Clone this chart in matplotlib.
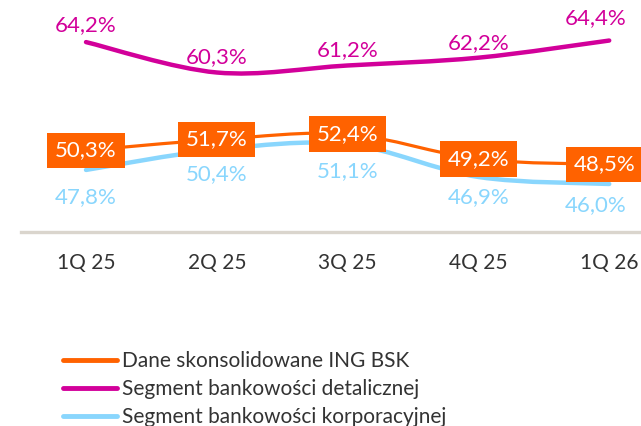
import numpy as np
import matplotlib
matplotlib.use("Agg")
import matplotlib.pyplot as plt
from matplotlib.path import Path
from matplotlib.patches import PathPatch
from matplotlib.lines import Line2D

plt.rcParams['font.family'] = ['Lato', 'DejaVu Sans']

quarters = ["1Q 25", "2Q 25", "3Q 25", "4Q 25", "1Q 26"]
consolidated = [50.3, 51.7, 52.4, 49.2, 48.5]
retail = [64.2, 60.3, 61.2, 62.2, 64.4]
corporate = [47.8, 50.4, 51.1, 46.9, 46.0]
series_names = ["Dane skonsolidowane ING BSK",
                "Segment bankowości detalicznej",
                "Segment bankowości korporacyjnej"]

ORANGE = "#FF6200"
MAGENTA = "#D2009A"
BLUE = "#89D6FD"


def fmt(v):
    return f"{v:.1f}%".replace(".", ",")


def smooth_path(xs, ys, t=1/6):
    # Catmull-Rom style bezier through the points (like Excel smoothed line)
    pts = np.column_stack([xs, ys]).astype(float)
    verts = [pts[0]]
    codes = [Path.MOVETO]
    n = len(pts)
    for i in range(n - 1):
        p0 = pts[i - 1] if i > 0 else pts[i]
        p1 = pts[i]
        p2 = pts[i + 1]
        p3 = pts[i + 2] if i + 2 < n else pts[i + 1]
        c1 = p1 + (p2 - p0) * t
        c2 = p2 - (p3 - p1) * t
        verts += [c1, c2, p2]
        codes += [Path.CURVE4] * 3
    return Path(verts, codes)


fig = plt.figure(figsize=(6.41, 4.26), dpi=100)
W, H = 641, 426
ax_left, ax_bottom, ax_top = 20.6, 232, 0
ax = fig.add_axes([ax_left / W, 1 - ax_bottom / H, (W - ax_left) / W, (ax_bottom - ax_top) / H])
ax.set_xlim(-0.5, 4.243)
ax.set_ylim(39.84, 69.6)
ax.axis('off')
ax.axhline(39.84, color="#DAD5CD", lw=2.4, clip_on=False)

x = np.arange(len(quarters))
for ys, col, lw in [(corporate, BLUE, 3.2), (consolidated, ORANGE, 2.3), (retail, MAGENTA, 3.2)]:
    p = smooth_path(x, ys)
    ax.add_patch(PathPatch(p, fill=False, edgecolor=col, lw=lw, capstyle='round', zorder=2))

# labels (offsets in points)
retail_off = [(0, 12), (0, 11), (0, 11), (0, 10.5), (-10, 16.5)]
for i, v in enumerate(retail):
    ax.annotate(fmt(v), (x[i], v), xytext=retail_off[i], textcoords='offset points',
                ha='center', va='center', color=MAGENTA, fontsize=16)

corp_off = [(0, -19.5), (0, -17.5), (0, -19), (0, -14.5), (-10, -15.5)]
for i, v in enumerate(corporate):
    ax.annotate(fmt(v), (x[i], v), xytext=corp_off[i], textcoords='offset points',
                ha='center', va='center', color=BLUE, fontsize=16)

for i, v in enumerate(consolidated):
    dx = -3 if i == len(consolidated) - 1 else 0
    ax.annotate(fmt(v), (x[i], v), xytext=(dx, 0), textcoords='offset points',
                ha='center', va='center', color="white", fontsize=16, zorder=5,
                bbox=dict(boxstyle='square,pad=0.35', fc=ORANGE, ec='none'))

for i, q in enumerate(quarters):
    ax.annotate(q, (x[i], 39.84), xytext=(0, -22), textcoords='offset points',
                ha='center', va='center', color="#333333", fontsize=15, annotation_clip=False)

handles = [Line2D([], [], color=c, lw=3.5, solid_capstyle='round')
           for c in (ORANGE, MAGENTA, BLUE)]
fig.legend(handles, series_names, loc='upper left', bbox_to_anchor=(63 / W, 1 - 351 / H),
           frameon=False, fontsize=15, handlelength=2.6, handletextpad=0.25,
           labelspacing=0.38, labelcolor="#333333", borderpad=0, borderaxespad=0)

fig.savefig("out.png", dpi=100)
